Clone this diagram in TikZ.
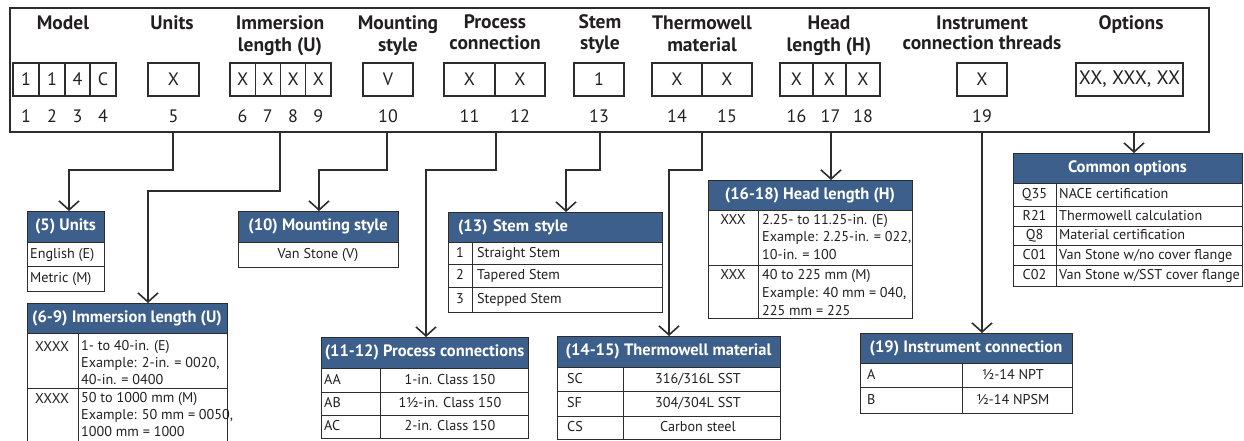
\documentclass[tikz,border=0pt]{standalone}
\usepackage{fontspec}
\setmainfont{PT Sans}
\usetikzlibrary{arrows.meta}
\definecolor{hdrC}{RGB}{61,95,140}
\definecolor{lnC}{RGB}{45,45,45}
\definecolor{txtC}{RGB}{35,31,32}
\tikzset{
  frame/.style={draw=lnC,line width=2.2pt,inner sep=0pt,outer sep=0pt,anchor=north west},
  cbox/.style={draw=lnC,line width=1.1pt,inner sep=0pt,outer sep=0pt,font=\fontsize{18}{20}\selectfont,text=txtC},
  cell/.style={draw=lnC,line width=1pt},
  hdr/.style={fill=hdrC,draw=lnC,line width=1pt,text=white,font=\bfseries\fontsize{16.5}{18}\selectfont,inner sep=0pt,outer sep=0pt,anchor=north west},
  lbl/.style={font=\bfseries\fontsize{19.5}{22}\selectfont,text=txtC,inner sep=0pt,text height=14pt,text depth=4pt},
  num/.style={font=\fontsize{18}{20}\selectfont,text=txtC,inner sep=0pt},
  body/.style={font=\fontsize{14.2}{17}\selectfont,text=txtC,inner sep=0pt,text height=11pt,text depth=3pt},
  conn/.style={draw=lnC,line width=1.8pt},
  arr/.style={conn,-{Straight Barb[length=9pt,width=20pt,line width=1.6pt]}}
}
\begin{document}
\begin{tikzpicture}[x=1pt,y=-1pt]
\useasboundingbox (0,0) rectangle (1244,441);
\clip (0,0) rectangle (1244,441);
% ---------- top frame ----------
\node[frame,minimum width=1199,minimum height=124] (frame) at (10,8) {};
\node[lbl] (tModel) at (63,25) {Model};
\node[lbl] (tUnits) at (172,25) {Units};
\node[lbl] (tImm1) at (280,25) {Immersion};
\node[lbl] (tImm2) at (280,47) {length (U)};
\node[lbl] (tMnt1) at (398,25) {Mounting};
\node[lbl] (tMnt2) at (398,47) {style};
\node[lbl] (tPrc1) at (495,24) {Process};
\node[lbl] (tPrc2) at (495,45) {connection};
\node[lbl] (tStm1) at (600,24) {Stem};
\node[lbl] (tStm2) at (600,45) {style};
\node[lbl] (tThw1) at (702,25) {Thermowell};
\node[lbl] (tThw2) at (702,47) {material};
\node[lbl] (tHd1) at (829,25) {Head};
\node[lbl] (tHd2) at (829,47) {length (H)};
\node[lbl] (tIns1) at (982,25) {Instrument};
\node[lbl] (tIns2) at (982,45) {connection threads};
\node[lbl] (tOpt) at (1131,25) {Options};
% code boxes
\node[cbox,minimum width=26,minimum height=33] (m1) at (26,79.5) {1};
\node[cbox,minimum width=26,minimum height=33] (m2) at (52,79.5) {1};
\node[cbox,minimum width=25,minimum height=33] (m3) at (77.5,79.5) {4};
\node[cbox,minimum width=26,minimum height=33] (m4) at (103,79.5) {C};
\node[cbox,minimum width=51,minimum height=33] (u5) at (173.5,79.5) {X};
\node[cbox,minimum width=25.25,minimum height=33] (i6) at (242.6,79.5) {X};
\node[cbox,minimum width=25.25,minimum height=33] (i7) at (267.9,79.5) {X};
\node[cbox,minimum width=25.25,minimum height=33] (i8) at (293.1,79.5) {X};
\node[cbox,minimum width=25.25,minimum height=33] (i9) at (318.4,79.5) {X};
\node[cbox,minimum width=50,minimum height=33] (v10) at (388,79.5) {V};
\node[cbox,minimum width=51,minimum height=33] (p11) at (469.5,79.5) {X};
\node[cbox,minimum width=50,minimum height=33] (p12) at (520,79.5) {X};
\node[cbox,minimum width=50,minimum height=33] (s13) at (599,79.5) {1};
\node[cbox,minimum width=50,minimum height=33] (t14) at (677,79.5) {X};
\node[cbox,minimum width=50,minimum height=33] (t15) at (727,79.5) {X};
\node[cbox,minimum width=33,minimum height=33] (h16) at (796.5,79.5) {X};
\node[cbox,minimum width=33,minimum height=33] (h17) at (829.5,79.5) {X};
\node[cbox,minimum width=34,minimum height=33] (h18) at (863,79.5) {X};
\node[cbox,minimum width=50,minimum height=33] (n19) at (982,79.5) {X};
\node[cbox,minimum width=107,minimum height=33,font=\fontsize{19.5}{20}\selectfont] (opt) at (1129.5,79.5) {XX, XXX, XX};
% position numbers
\foreach \n/\x in {1/26,2/52,3/77.5,4/103,5/173.5,6/242.6,7/267.9,8/293.1,9/318.4,10/388,11/469.5,12/520,13/599,14/677,15/727,16/796.5,17/830.5,18/863,19/982}
  \node[num] (n\n) at (\x,116) {\n};
% ---------- tables ----------
% (5) Units
\node[hdr,minimum width=77,minimum height=31] (uH) at (27,211) {(5) Units};
\draw[cell] (27,242) rectangle (104,266) (27,266) rectangle (104,291);
\node[body,anchor=west] (uR1) at (30,254) {English (E)};
\node[body,anchor=west] (uR2) at (30,278.5) {Metric (M)};
% (6-9) Immersion
\node[hdr,minimum width=200,minimum height=30] (iH) at (27,303) {(6-9) Immersion length (U)};
\draw[cell] (27,333) -- (27,445) (227,333) -- (227,445) (78,333) -- (78,445) (27,388) -- (227,388);
\node[body] (iC1) at (52,347) {XXXX};
\node[body] (iC2) at (52,399) {XXXX};
\node[body,anchor=west] (iA1) at (81,346) {1- to 40-in. (E)};
\node[body,anchor=west] (iA2) at (81,363) {Example: 2-in. = 0020,};
\node[body,anchor=west] (iA3) at (81,380) {40-in. = 0400};
\node[body,anchor=west] (iB1) at (81,398) {50 to 1000 mm (M)};
\node[body,anchor=west] (iB2) at (81,415) {Example: 50 mm = 0050,};
\node[body,anchor=west] (iB3) at (81,432) {1000 mm = 1000};
% (10) Mounting
\node[hdr,minimum width=160,minimum height=31] (mH) at (238,211) {(10) Mounting style};
\draw[cell] (238,242) rectangle (398,267);
\node[body] (mR1) at (318,254.5) {Van Stone (V)};
% (13) Stem
\node[hdr,minimum width=214,minimum height=30,text width=194pt,inner xsep=10pt,align=left] (sH) at (448,212) {(13) Stem style};
\draw[cell] (448,242) rectangle (662,264) (448,264) rectangle (662,287) (448,287) rectangle (662,312) (472,242) -- (472,312);
\node[body] (sC1) at (460,253) {1};
\node[body] (sC2) at (460,275.5) {2};
\node[body] (sC3) at (460,299.5) {3};
\node[body,anchor=west] (sD1) at (477,253) {Straight Stem};
\node[body,anchor=west] (sD2) at (477,275.5) {Tapered Stem};
\node[body,anchor=west] (sD3) at (477,299.5) {Stepped Stem};
% (11-12) Process
\node[hdr,minimum width=207,minimum height=31] (pH) at (321,337) {(11-12) Process connections};
\draw[cell] (321,368) rectangle (528,392) (321,392) rectangle (528,415) (321,415) rectangle (528,438) (380,368) -- (380,438);
\node[body,anchor=west] (pC1) at (324,380) {AA};
\node[body,anchor=west] (pC2) at (324,403.5) {AB};
\node[body,anchor=west] (pC3) at (324,426.5) {AC};
\node[body] (pD1) at (450,380) {1-in. Class 150};
\node[body] (pD2) at (450,403.5) {1½-in. Class 150};
\node[body] (pD3) at (450,426.5) {2-in. Class 150};
% (14-15) Thermowell
\node[hdr,minimum width=223,minimum height=31] (tH) at (557,336) {(14-15) Thermowell material};
\draw[cell] (557,367) rectangle (780,391) (557,391) rectangle (780,416) (557,416) rectangle (780,439) (623,367) -- (623,439);
\node[body,anchor=west] (tC1) at (567,379) {SC};
\node[body,anchor=west] (tC2) at (567,403.5) {SF};
\node[body,anchor=west] (tC3) at (567,427.5) {CS};
\node[body] (tD1) at (698,379) {316/316L SST};
\node[body] (tD2) at (698,403.5) {304/304L SST};
\node[body] (tD3) at (698,427.5) {Carbon steel};
% (16-18) Head
\node[hdr,minimum width=204,minimum height=30] (hH) at (708,180) {(16-18) Head length (H)};
\draw[cell] (708,210) rectangle (912,265) (708,265) rectangle (912,318) (758,210) -- (758,318);
\node[body] (hC1) at (733,220) {XXX};
\node[body] (hC2) at (733,275) {XXX};
\node[body,anchor=west] (hA1) at (762,220) {2.25- to 11.25-in. (E)};
\node[body,anchor=west] (hA2) at (762,237.5) {Example: 2.25-in. = 022,};
\node[body,anchor=west] (hA3) at (762,255) {10-in. = 100};
\node[body,anchor=west] (hB1) at (762,275) {40 to 225 mm (M)};
\node[body,anchor=west] (hB2) at (762,293) {Example: 40 mm = 040,};
\node[body,anchor=west] (hB3) at (762,311) {225 mm = 225};
% (19) Instrument
\node[hdr,minimum width=212,minimum height=30] (nH) at (860,333) {(19) Instrument connection};
\draw[cell] (860,363) rectangle (1072,387) (860,387) rectangle (1072,413) (962,363) -- (962,413);
\node[body,anchor=west] (nC1) at (867,375) {A};
\node[body,anchor=west] (nC2) at (867,400) {B};
\node[body] (nD1) at (1013,375) {½-14 NPT};
\node[body] (nD2) at (1013,400) {½-14 NPSM};
% Common options
\node[hdr,minimum width=229,minimum height=30] (oH) at (1013,153) {Common options};
\draw[cell] (1013,183) rectangle (1242,206) (1013,206) rectangle (1242,226) (1013,226) rectangle (1242,245) (1013,245) rectangle (1242,265) (1013,265) rectangle (1242,286) (1056,183) -- (1056,286);
\foreach \c/\d/\y [count=\k] in {Q35/NACE certification/194.5, R21/Thermowell calculation/216, Q8/Material certification/235.5, C01/Van Stone w\slash no cover flange/255, C02/Van Stone w\slash SST cover flange/275.5}{
  \node[body] (oC\k) at (1034.5,\y) {\c};
  \node[body,anchor=west] (oD\k) at (1059,\y) {\d};
}
% ---------- connectors ----------
\coordinate (s5) at (173,132);   \coordinate (k5) at (69,170);
\coordinate (s69) at (280,132);  \coordinate (k69) at (148,191);
\coordinate (s10) at (387,132);  \coordinate (k10) at (319,170);
\coordinate (s11) at (496,132);  \coordinate (k11) at (426,170);
\coordinate (s13) at (600,132);  \coordinate (k13) at (566,170);
\coordinate (s14) at (702,132);  \coordinate (k14) at (669,170);
\coordinate (s16) at (831,132);
\coordinate (s19) at (982,132);
\coordinate (sO) at (1134,132);
\draw[arr] (s5) |- (k5) -- (k5 |- uH.north);
\draw[arr] (s69) |- (k69) -- (k69 |- iH.north);
\draw[arr] (s10) |- (k10) -- (k10 |- mH.north);
\draw[arr] (s11) |- (k11) -- (k11 |- pH.north);
\draw[arr] (s13) |- (k13) -- (k13 |- sH.north);
\draw[arr] (s14) |- (k14) -- (k14 |- tH.north);
\draw[arr] (s16) -- (s16 |- hH.north);
\draw[arr] (s19) -- (s19 |- nH.north);
\draw[arr] (sO) -- (sO |- oH.north);
\end{tikzpicture}
\end{document}
